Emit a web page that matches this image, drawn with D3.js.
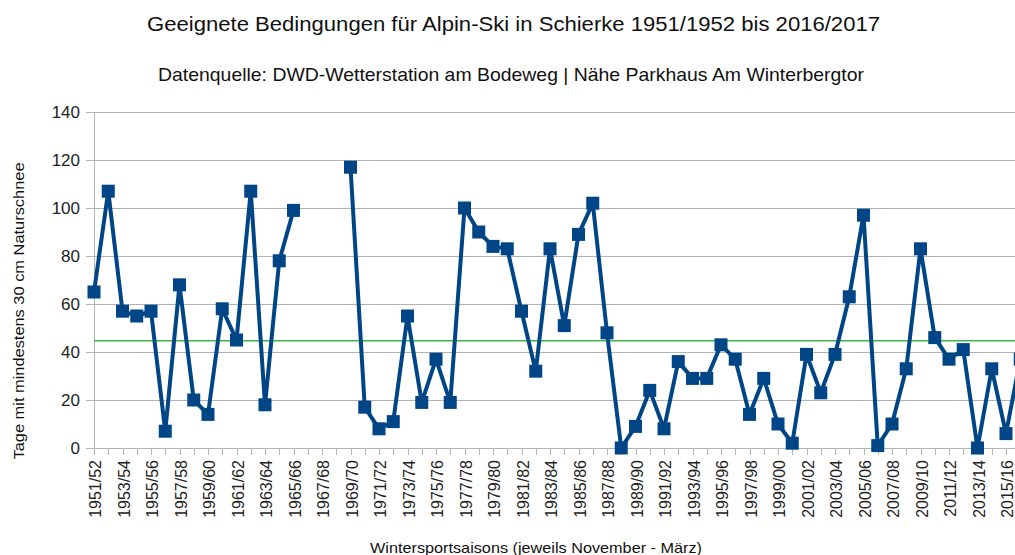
<!DOCTYPE html>
<html>
<head>
<meta charset="utf-8">
<script src="https://cdn.jsdelivr.net/npm/d3@7/dist/d3.min.js"></script>
<style>
  html, body { margin: 0; padding: 0; background: #fff; }
  svg { display: block; font-family: "Liberation Sans", Arial, sans-serif; }
</style>
</head>
<body>
<svg id="chart" width="1015" height="555"></svg>
<script>
const titleText = "Geeignete Bedingungen für Alpin-Ski in Schierke 1951/1952 bis 2016/2017";
const subtitleText = "Datenquelle: DWD-Wetterstation am Bodeweg | Nähe Parkhaus Am Winterbergtor";
const xAxisTitle = "Wintersportsaisons (jeweils November - März)";
const yAxisTitle = "Tage mit mindestens 30 cm Naturschnee";

const seasons = [
  "1951/52","1952/53","1953/54","1954/55","1955/56","1956/57","1957/58","1958/59","1959/60","1960/61",
  "1961/62","1962/63","1963/64","1964/65","1965/66","1966/67","1967/68","1968/69","1969/70","1970/71",
  "1971/72","1972/73","1973/74","1974/75","1975/76","1976/77","1977/78","1978/79","1979/80","1980/81",
  "1981/82","1982/83","1983/84","1984/85","1985/86","1986/87","1987/88","1988/89","1989/90","1990/91",
  "1991/92","1992/93","1993/94","1994/95","1995/96","1996/97","1997/98","1998/99","1999/00","2000/01",
  "2001/02","2002/03","2003/04","2004/05","2005/06","2006/07","2007/08","2008/09","2009/10","2010/11",
  "2011/12","2012/13","2013/14","2014/15","2015/16","2016/17"
];

const snowDays = [
  65, 107, 57, 55, 57, 7, 68, 20, 14, 58,
  45, 107, 18, 78, 99, null, null, null, 117, 17,
  8, 11, 55, 19, 37, 19, 100, 90, 84, 83,
  57, 32, 83, 51, 89, 102, 48, 0, 9, 24,
  8, 36, 29, 29, 43, 37, 14, 29, 10, 2,
  39, 23, 39, 63, 97, 1, 10, 33, 83, 46,
  37, 41, 0, 33, 6, 37
];

const yTicks = [0, 20, 40, 60, 80, 100, 120, 140];
const xTickLabels = seasons.filter((s, i) => i % 2 === 0);

const W = 1015, H = 555;
const svg = d3.select("#chart");

const x = d3.scalePoint().domain(seasons).range([94, 94 + 65 * 14.25]);
const y = d3.scaleLinear().domain([0, 140]).range([448, 112]);

const gridColor = "#b3b3b3";
const lineColor = "#004586";

// gridlines
svg.append("g").selectAll("line").data(yTicks).join("line")
  .attr("x1", 86).attr("x2", W)
  .attr("y1", d => y(d) + 0.5).attr("y2", d => y(d) + 0.5)
  .attr("stroke", gridColor).attr("stroke-width", 1);

// y axis line
svg.append("line")
  .attr("x1", 94.5).attr("x2", 94.5)
  .attr("y1", y(140)).attr("y2", 455)
  .attr("stroke", gridColor).attr("stroke-width", 1);

// x tick marks
svg.append("g").selectAll("line").data(seasons).join("line")
  .attr("x1", d => Math.round(x(d)) + 0.5).attr("x2", d => Math.round(x(d)) + 0.5)
  .attr("y1", y(0)).attr("y2", 455)
  .attr("stroke", gridColor).attr("stroke-width", 1);

// y tick labels
svg.append("g").selectAll("text").data(yTicks).join("text")
  .attr("x", 80).attr("y", d => y(d))
  .attr("dy", "0.36em")
  .attr("text-anchor", "end")
  .attr("font-size", 17)
  .attr("fill", "#222")
  .text(d => d);

// x tick labels
svg.append("g").selectAll("text").data(xTickLabels).join("text")
  .attr("transform", d => `translate(${x(d) + 7},460) rotate(-90)`)
  .attr("text-anchor", "end")
  .attr("font-size", 16)
  .attr("fill", "#222")
  .text(d => d);

// mean line
const meanVal = d3.mean(snowDays.filter(v => v !== null));
svg.append("line")
  .attr("x1", 94).attr("x2", W)
  .attr("y1", y(meanVal)).attr("y2", y(meanVal))
  .attr("stroke", "#3cb44b").attr("stroke-width", 1.5);

// series line
const pts = seasons.map((s, i) => ({ s, v: snowDays[i] }));
const line = d3.line()
  .defined(d => d.v !== null)
  .x(d => x(d.s)).y(d => y(d.v));
svg.append("path").datum(pts)
  .attr("d", line)
  .attr("fill", "none")
  .attr("stroke", lineColor)
  .attr("stroke-width", 4)
  .attr("stroke-linejoin", "round");

// markers
const ms = 13;
svg.append("g").selectAll("rect").data(pts.filter(d => d.v !== null)).join("rect")
  .attr("x", d => x(d.s) - ms / 2).attr("y", d => y(d.v) - ms / 2)
  .attr("width", ms).attr("height", ms)
  .attr("fill", lineColor);

// titles
svg.append("text").attr("x", 513.5).attr("y", 31)
  .attr("text-anchor", "middle").attr("font-size", 20).attr("fill", "#111")
  .attr("textLength", 733).attr("lengthAdjust", "spacingAndGlyphs")
  .text(titleText);
svg.append("text").attr("x", 511).attr("y", 81)
  .attr("text-anchor", "middle").attr("font-size", 19).attr("fill", "#111")
  .attr("textLength", 706).attr("lengthAdjust", "spacingAndGlyphs")
  .text(subtitleText);
svg.append("text").attr("x", 536).attr("y", 553)
  .attr("text-anchor", "middle").attr("font-size", 15).attr("fill", "#111")
  .attr("textLength", 332).attr("lengthAdjust", "spacingAndGlyphs")
  .text(xAxisTitle);
svg.append("text")
  .attr("transform", "translate(24,311) rotate(-90)")
  .attr("text-anchor", "middle").attr("font-size", 15).attr("fill", "#111")
  .attr("textLength", 297).attr("lengthAdjust", "spacingAndGlyphs")
  .text(yAxisTitle);
</script>
</body>
</html>
